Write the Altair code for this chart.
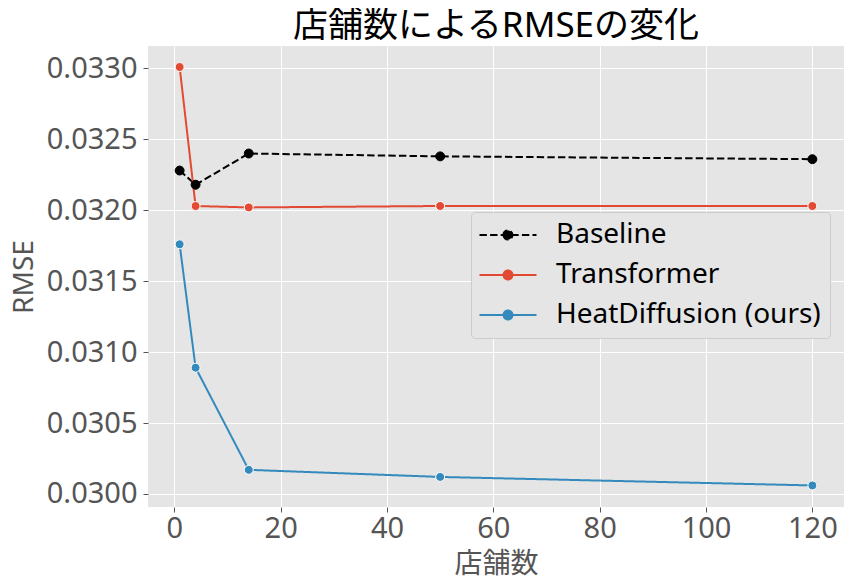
import altair as alt
import pandas as pd

stores = [1, 4, 14, 50, 120]
series_names = ["Baseline", "Transformer", "HeatDiffusion (ours)"]
baseline = [0.03228, 0.03218, 0.03240, 0.03238, 0.03236]
transformer = [0.03301, 0.03203, 0.03202, 0.03203, 0.03203]
heat = [0.03176, 0.03089, 0.03017, 0.03012, 0.03006]
colors = ["#000000", "#E24A33", "#348ABD"]
y_ticks = [0.0300, 0.0305, 0.0310, 0.0315, 0.0320, 0.0325, 0.0330]
x_ticks = [0, 20, 40, 60, 80, 100, 120]

rows = []
for name, vals in zip(series_names, [baseline, transformer, heat]):
    for s, v in zip(stores, vals):
        rows.append({"store": s, "rmse": v, "series": name})
df = pd.DataFrame(rows)

FONT = "Noto Sans, Noto Sans CJK JP"

x = alt.X("store:Q", title="店舗数",
          scale=alt.Scale(domain=[-4.95, 125.95], nice=False, zero=False),
          axis=alt.Axis(values=x_ticks, format="d"))
y = alt.Y("rmse:Q", title="RMSE",
          scale=alt.Scale(domain=[0.029908, 0.033158], nice=False, zero=False),
          axis=alt.Axis(values=y_ticks, format=".4f"))

cscale = alt.Scale(domain=series_names, range=colors)
dscale = alt.Scale(domain=series_names, range=[[7.4, 3.2], [1, 0], [1, 0]])
leg = alt.Legend(title=None)

# legend carrier (drawn underneath, hidden by the visible markers)
legend_pts = alt.Chart(df).mark_point(filled=True, size=16, opacity=1, strokeWidth=0.5).encode(
    x=x, y=y,
    color=alt.Color("series:N", scale=cscale, sort=series_names, legend=leg),
    stroke=alt.Stroke("series:N", scale=cscale, sort=series_names, legend=leg),
    strokeDash=alt.StrokeDash("series:N", scale=dscale, sort=series_names, legend=leg),
)

lines = alt.Chart(df).mark_line(strokeWidth=2).encode(
    x=x, y=y,
    color=alt.Color("series:N", scale=cscale, sort=series_names, legend=None),
    strokeDash=alt.StrokeDash("series:N", scale=dscale, sort=series_names, legend=None),
)

points = alt.Chart(df).mark_point(filled=True, size=80, opacity=1).encode(
    x=x, y=y,
    color=alt.Color("series:N", scale=cscale, sort=series_names, legend=None),
    stroke=alt.condition(alt.datum.series == "Baseline", alt.value("#000000"), alt.value("#FFFFFF")),
    strokeWidth=alt.value(1),
)

chart = alt.layer(legend_pts, lines, points).properties(
    width=696, height=461,
    title=alt.TitleParams("店舗数によるRMSEの変化", font=FONT, fontSize=35, fontWeight="normal",
                          color="#000000", offset=2),
    autosize=alt.AutoSizeParams(type="none"),
    padding={"left": 140, "top": 38, "right": 2, "bottom": 76},
).configure_view(fill="#E5E5E5", stroke=None).configure_axis(
    gridColor="#FFFFFF", gridWidth=1, domain=False,
    labelFont=FONT, labelFontSize=29, labelColor="#555555",
    tickColor="#555555", tickSize=5, tickWidth=1,
    titleFont=FONT, titleFontSize=28, titleColor="#555555", titleFontWeight="normal",
).configure_axisX(labelPadding=2, titlePadding=7).configure_axisY(labelPadding=6, titlePadding=8
).configure_legend(
    orient="none", legendX=323, legendY=166,
    fillColor="#E5E5E5", strokeColor="#CCCCCC", cornerRadius=4,
    padding=9, rowPadding=12,
    labelFont=FONT, labelFontSize=28, labelColor="#000000", labelOffset=34, labelLimit=0,
    symbolType="M-2.85,0H2.85M-0.45,0A0.45,0.45 0 1,0 0.45,0A0.45,0.45 0 1,0 -0.45,0Z",
    symbolSize=400, symbolStrokeWidth=2, symbolOffset=14, symbolOpacity=1,
)

chart.save("out.html", embed_options={"renderer": "svg", "actions": False})
